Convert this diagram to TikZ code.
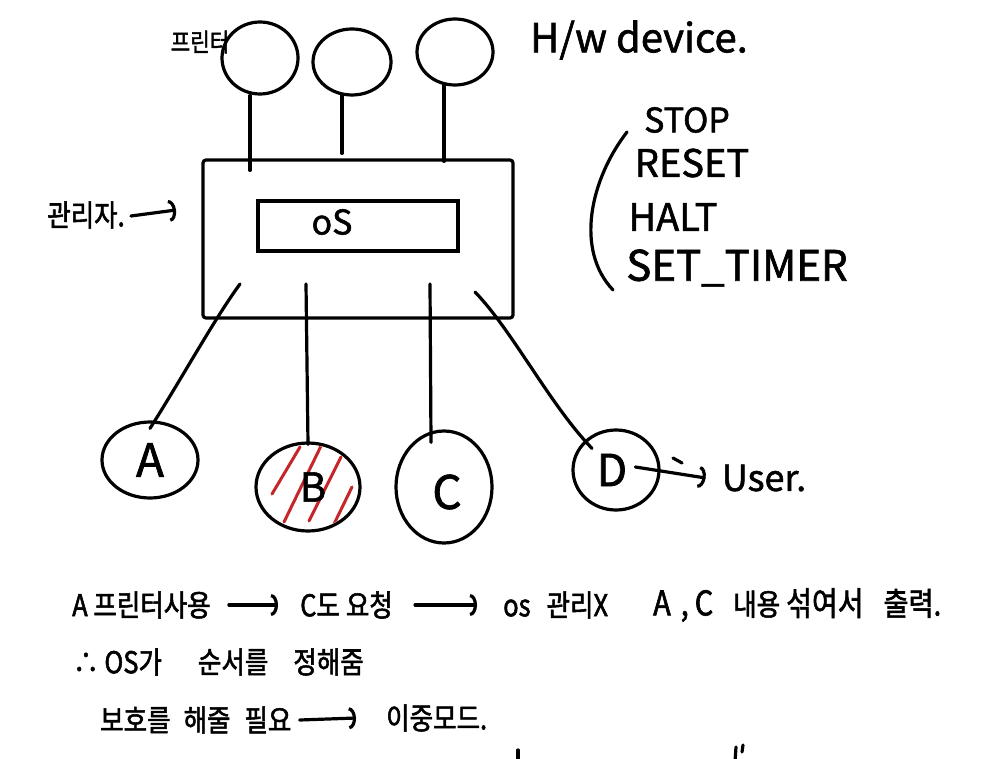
\documentclass[tikz,border=0pt]{standalone}
\usepackage{fontspec}
\setmainfont{Noto Sans CJK KR}[FakeBold=1.5]
\newfontfamily\krhand{Noto Sans CJK KR}[FakeStretch=0.85, FakeBold=1.8]
\usetikzlibrary{arrows.meta,shapes.geometric}
\definecolor{hatch}{HTML}{C4262A}
\begin{document}
\begin{tikzpicture}[x=1pt,y=-1pt,
  pen/.style={line width=3.2pt, line cap=round, line join=round, black},
  blob/.style={ellipse, draw, line width=3.2pt, inner sep=0pt},
  lbl/.style={inner sep=0pt, anchor=center},
  kr/.style={inner sep=0pt, anchor=west, font=\krhand\fontsize{30}{34}\selectfont},
  harrow/.style={pen, -{Arc Barb[length=7pt,width=22pt,line width=3.2pt]}},
  hatchline/.style={line width=3pt, line cap=round, hatch}]
\useasboundingbox (0,0) rectangle (984,759);
\fill[white] (0,0) rectangle (984,759);

% top hardware devices
\node[blob, minimum width=76pt, minimum height=72pt] (p1) at (260,58) {};
\node[blob, minimum width=78pt, minimum height=66pt] (p2) at (352,62) {};
\node[blob, minimum width=76pt, minimum height=66pt] (p3) at (455,52) {};
\node[lbl, font=\krhand\fontsize{25}{27}\selectfont] (prn) at (200,42) {프린터};
\node[lbl, font=\fontsize{40}{44}\selectfont] (hw) at (639,40) {H/w device.};

% kernel box
\node[draw, line width=3.2pt, minimum width=310pt, minimum height=158pt, inner sep=0pt, rounded corners=3pt] (box) at (358,239) {};
\node[draw, line width=3.2pt, minimum width=200pt, minimum height=50pt, inner sep=0pt] (os) at (358,226) {};
\node[lbl, font=\fontsize{34}{36}\selectfont] (ostxt) at (332,222) {oS};

\draw[pen] ([xshift=-10pt]p1.south) -- ([xshift=-10pt,yshift=-12pt]p1.south |- box.north);
\draw[pen] ([xshift=-10pt,yshift=1pt]p2.south) -- ([xshift=-10pt,yshift=5pt]p2.south |- box.north);
\draw[pen] ([xshift=-11pt,yshift=1pt]p3.south) -- ([xshift=-11pt,yshift=-3pt]p3.south |- box.north);

% admin label
\node[lbl, font=\krhand\fontsize{30}{34}\selectfont] (adm) at (86,215) {관리자.};
\coordinate (admend) at (176,210);
\draw[harrow] (adm.east) ++(6pt,-1pt) -- (admend);

% processes
\node[blob, minimum width=96pt, minimum height=76pt, font=\fontsize{46}{50}\selectfont] (ca) at (150,460) {A};
\node[blob, minimum width=104pt, minimum height=88pt] (cb) at (308,487) {};
\node[blob, minimum width=96pt, minimum height=112pt] (cc) at (444,487) {};
\node[blob, minimum width=86pt, minimum height=80pt] (cd) at (616,470) {};
\begin{scope}
  \clip (308,487) ellipse (50pt and 42pt);
  \draw[hatchline] (300,447) -- (272,494);
  \draw[hatchline] (321,446) -- (284,522);
  \draw[hatchline] (341,457) -- (309,521);
  \draw[hatchline] (352,487) -- (334,524);
\end{scope}
\node[lbl, font=\fontsize{40}{44}\selectfont] (btxt) at (313,487) {B};
\node[lbl, font=\fontsize{46}{50}\selectfont] (ctxt) at (447,492) {C};
\node[lbl, font=\fontsize{44}{48}\selectfont] (dtxt) at (612,470) {D};

\coordinate (a0) at (240,284);
\coordinate (b0) at (306,284);
\coordinate (c0) at (430,284);
\coordinate (d0) at (475,292);
\draw[pen] (a0) .. controls (215,318) and (182,378) .. ([yshift=-8pt]ca.north);
\draw[pen] (b0) -- ([yshift=-3pt]cb.north);
\draw[pen] (c0) -- ([xshift=-13pt,yshift=-13pt]cc.north);
\draw[pen] (d0) .. controls (512,330) and (550,405) .. ([xshift=-24pt,yshift=-20pt]cd.north);

% user
\node[lbl, font=\fontsize{36}{40}\selectfont] (user) at (764,478) {User.};
\draw[harrow] (dtxt.east) ++(8pt,3pt) -- ([xshift=-16pt]user.west);
\draw[pen] (673,458) -- (682,463);

% privileged instructions
\node[lbl, font=\fontsize{34}{38}\selectfont] (stop) at (687,120) {STOP};
\node[lbl, font=\fontsize{38}{42}\selectfont] (reset) at (692,163) {RESET};
\node[lbl, font=\fontsize{38}{42}\selectfont] (halt) at (673,217) {HALT};
\node[lbl, font=\fontsize{42}{46}\selectfont] (timer) at (737,268) {SET\_TIMER};
\coordinate (bt) at (627,132);
\coordinate (bb) at (613,290);
\draw[pen] (bt) .. controls (590,180) and (575,250) .. (bb);

% notes
\node[kr] (n1a) at (72,605) {A 프린터사용};
\node[kr] (n1b) at (300,605) {C도\hspace{6pt}요청};
\node[kr] (n1c) at (503,605) {os\hspace{16pt}관리X};
\node[kr] (n1d) at (653,605) {{\fontsize{34}{36}\selectfont A\hspace{10pt},\hspace{6pt}C}\hspace{20pt}내용\hspace{6pt}{\fontsize{33}{36}\selectfont 섞여서}\hspace{20pt}{\fontsize{32}{36}\selectfont 출력.}};
\draw[harrow] ([xshift=18pt]n1a.east) -- ([xshift=-22pt]n1b.west);
\draw[harrow] ([xshift=22pt]n1b.east) -- ([xshift=-26pt]n1c.west);

\node[kr] (n2) at (73,662) {∴ OS가\hspace{36pt}순서를\hspace{25pt}정해줌};

\node[kr] (n3a) at (100,720) {보호를\hspace{13pt}해줄\hspace{14pt}필요};
\node[kr] (n3b) at (386,718) {이중모드.};
\draw[harrow] ([xshift=8pt]n3a.east) -- ([xshift=-30pt]n3b.west);

% cut-off strokes at the bottom edge
\draw[pen] (518,750) -- (518,762);
\draw[pen] (736,747) -- (735,762);
\draw[pen] (743,745) -- (742,752);
\end{tikzpicture}
\end{document}
